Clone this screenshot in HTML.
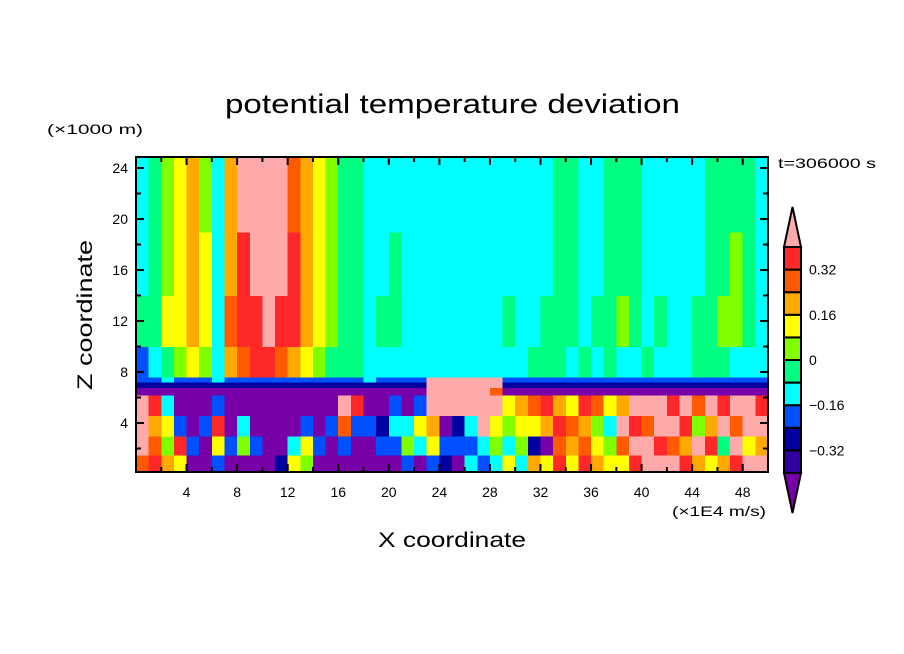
<!DOCTYPE html>
<html><head><meta charset="utf-8"><style>
html,body{margin:0;padding:0;background:#fff;}
svg{display:block;font-family:"Liberation Sans",sans-serif;}
</style></head><body>
<svg id="chart" width="904" height="654" viewBox="0 0 904 654" xmlns="http://www.w3.org/2000/svg">
<rect width="904" height="654" fill="#fff"/>
<text x="225" y="113" font-size="27" textLength="455" lengthAdjust="spacingAndGlyphs">potential temperature deviation</text>
<text x="47" y="134" font-size="14" textLength="96" lengthAdjust="spacingAndGlyphs">(×1000 m)</text>
<text x="778" y="168" font-size="14" textLength="98" lengthAdjust="spacingAndGlyphs">t=306000 s</text>
<text x="92" y="390" font-size="21" textLength="150" lengthAdjust="spacingAndGlyphs" transform="rotate(-90 92 390)">Z coordinate</text>
<text x="378" y="547" font-size="21" textLength="148" lengthAdjust="spacingAndGlyphs">X coordinate</text>
<text x="672" y="516" font-size="14" textLength="94" lengthAdjust="spacingAndGlyphs">(×1E4 m/s)</text>
<g id="cells" shape-rendering="crispEdges"></g>
<g id="axes"></g>
<g id="cbar"></g>
</svg>
<script>
const P=0.45,R=0.36,O=0.28,A=0.2,Y=0.12,G=0.04,S=-0.04,C=-0.12,B=-0.2,N=-0.28,I=-0.36,V=-0.45;
const rowBands=[[0,1.5],[1.5,3],[3,4.6],[4.6,6.2],[6.2,6.8],[6.8,7.2],[7.2,7.6],[7.6,10],[10,14],[14,19],[19,25]];
const rowZ19=[C,S,G,Y,A,G,C,A,P,P,P,P,O,A,Y,G,S,S,C,C,C,C,C,C,C,C,C,C,C,C,C,C,C,S,S,C,C,S,S,S,C,C,C,C,C,S,S,S,S,C];
const rowZ14=[C,S,G,Y,A,Y,C,A,R,P,P,P,R,A,Y,G,S,S,C,C,S,C,C,C,C,C,C,C,C,C,C,C,C,S,S,C,C,S,S,S,C,C,C,C,C,S,S,G,S,C];
const rowZ10=[S,S,Y,Y,A,Y,C,O,R,R,P,R,R,A,Y,G,S,S,C,S,S,C,C,C,C,C,C,C,C,S,C,C,S,S,S,C,S,S,G,S,C,S,C,C,S,S,G,G,S,C];
const rowZ76=[B,C,S,G,Y,G,C,A,O,R,R,O,A,Y,G,S,S,S,C,C,C,C,C,C,C,C,C,C,C,C,C,S,S,S,C,S,C,S,C,C,S,C,C,C,S,S,S,C,C,C];
const rowT3=[B,B,C,B,B,B,C,B,B,B,B,B,B,B,B,B,B,B,C,B,B,B,B,P,P,P,P,P,P,B,B,B,B,B,B,B,B,B,B,B,B,B,B,B,B,B,B,B,B,B];
const rowT2=[N,N,N,N,N,N,N,N,N,N,N,N,N,N,N,N,N,N,N,N,N,N,N,P,P,P,P,P,P,N,N,N,N,N,N,N,N,N,N,N,N,N,N,N,N,N,N,N,N,N];
const rowT1=[V,V,V,V,V,V,V,V,V,V,V,V,V,V,V,V,V,V,V,V,V,V,V,P,P,P,P,P,O,V,V,V,V,V,V,V,V,V,V,V,V,V,V,V,V,V,V,V,V,V];
// lower layer columns: [z4.6-6.2, z3-4.6, z1.5-3, z0-1.5]
const lowerCols=[[P,P,P,O],[R,A,O,R],[C,Y,G,A],[V,B,R,Y],[V,V,B,V],[V,B,V,V],[B,R,Y,B],[V,V,B,V],[V,C,G,V],[V,V,B,V],
[V,V,V,V],[V,V,V,N],[V,V,C,Y],[V,B,Y,G],[V,V,B,V],[V,B,V,V],[P,O,B,V],[R,B,V,V],[V,B,V,V],[V,N,B,V],
[B,C,B,V],[V,C,G,B],[B,Y,C,V],[P,A,Y,B],[P,V,B,N],[P,N,B,V],[P,C,B,C],[P,P,C,B],[P,Y,G,C],[Y,G,C,Y],
[A,Y,G,C],[O,Y,N,A],[R,A,V,Y],[A,R,O,R],[Y,O,A,Y],[R,A,O,R],[O,G,Y,A],[Y,C,G,Y],[A,P,O,Y],[P,R,P,R],
[P,O,P,P],[P,P,R,P],[R,P,O,P],[P,R,A,R],[O,G,P,A],[P,A,R,Y],[R,P,S,A],[P,O,P,R],[P,P,Y,P],[R,P,A,P]];
const levels=[-0.40,-0.32,-0.24,-0.16,-0.08,0,0.08,0.16,0.24,0.32,0.40];
const colors=["#7800a8","#3000a0","#0000a0","#0050ff","#00ffff","#00ff80","#80ff00","#ffff00","#ffa800","#ff5a00","#ff2828","#ffaaaa"];
const xTicks=[4,8,12,16,20,24,28,32,36,40,44,48];
const yTicks=[4,8,12,16,20,24];
const cbarLabels=["0.32","0.16","0","−0.16","−0.32"];
const cbarLabelVals=[0.32,0.16,0,-0.16,-0.32];

const NS="http://www.w3.org/2000/svg";
const X0=136,X1=768,Ytop=157,Ybot=472;
function xs(x){return X0+x*(X1-X0)/50;}
function ys(z){return 474-z*12.75;}
function colorOf(v){let i=0;while(i<levels.length&&v>=levels[i])i++;return colors[i];}
function mk(tag,attrs,parent){const e=document.createElementNS(NS,tag);for(const k in attrs)e.setAttribute(k,attrs[k]);parent.appendChild(e);return e;}
const cells=document.getElementById('cells');
const rows=[lowerCols.map(c=>c[3]),lowerCols.map(c=>c[2]),lowerCols.map(c=>c[1]),lowerCols.map(c=>c[0]),rowT1,rowT2,rowT3,rowZ76,rowZ10,rowZ14,rowZ19];
rows.forEach((row,ri)=>{
  const z0=rowBands[ri][0],z1=rowBands[ri][1];
  row.forEach((v,ci)=>{
    const xa=xs(ci),xb=xs(ci+1);
    const ya=Math.max(Ytop,ys(z1)),yb=Math.min(Ybot,ys(z0));
    const r=mk('rect',{x:xa,y:ya,width:xb-xa+0.5,height:yb-ya+0.5,fill:colorOf(v)},cells);
    
    
  });
});
const axes=document.getElementById('axes');
const fr=mk('rect',{x:X0,y:Ytop,width:X1-X0,height:Ybot-Ytop,fill:'none',stroke:'#000','stroke-width':2},axes);


for(let t=2;t<50;t+=2){const major=t%4===0;const L=major?8:5;const x=xs(t);
  mk('line',{x1:x,y1:Ybot,x2:x,y2:Ybot-L,stroke:'#000','stroke-width':2},axes);
  mk('line',{x1:x,y1:Ytop,x2:x,y2:Ytop+L,stroke:'#000','stroke-width':2},axes);}
for(let t=2;t<=24;t+=2){const major=t%4===0;const L=major?8:5;const y=ys(t);
  mk('line',{x1:X0,y1:y,x2:X0+L,y2:y,stroke:'#000','stroke-width':2},axes);
  mk('line',{x1:X1,y1:y,x2:X1-L,y2:y,stroke:'#000','stroke-width':2},axes);}
xTicks.forEach(t=>{const e=mk('text',{x:xs(t),y:Ybot+25,'font-size':14,'text-anchor':'middle'},axes);e.textContent=t;
  
  });
yTicks.forEach(t=>{const e=mk('text',{x:X0-8,y:ys(t)+5,'font-size':14,'text-anchor':'end'},axes);e.textContent=t;
  
  });
const cb=document.getElementById('cbar');
const cbx=784,cbw=17,cbTop=247,cbBot=473,boxH=(cbBot-cbTop)/10;
function cy(v){return cbBot-(v-levels[0])/(levels[10]-levels[0])*(cbBot-cbTop);}
for(let i=0;i<10;i++){const r=mk('rect',{x:cbx,y:cy(levels[i+1]),width:cbw,height:boxH,fill:colors[i+1],stroke:'#000','stroke-width':2},cb);
  
  }
const tt=mk('polygon',{points:`${cbx},${cbTop} ${cbx+cbw/2},207 ${cbx+cbw},${cbTop}`,fill:colors[11],stroke:'#000','stroke-width':2},cb);


const bt=mk('polygon',{points:`${cbx},${cbBot} ${cbx+cbw/2},513 ${cbx+cbw},${cbBot}`,fill:colors[0],stroke:'#000','stroke-width':2},cb);


cbarLabels.forEach((s,i)=>{const e=mk('text',{x:809,y:cy(cbarLabelVals[i])+5,'font-size':14},cb);e.textContent=s;
  
  });
</script>
</body></html>
